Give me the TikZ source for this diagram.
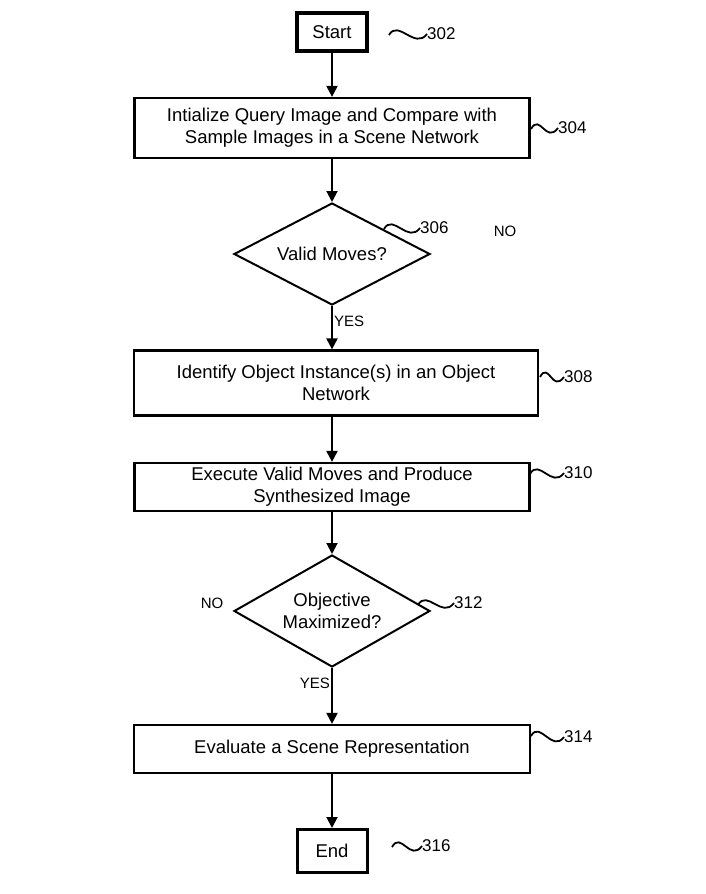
\documentclass[tikz,border=0pt]{standalone}
\usepackage{fontspec}
\setmainfont{Liberation Sans}
\usetikzlibrary{shapes.geometric,arrows.meta}

\begin{document}
\begin{tikzpicture}[x=1pt, y=-1pt,
    font=\fontsize{18.5}{22}\selectfont,
    flowbox/.style={draw, line width=2.2pt, align=center, inner sep=0pt},
    termbox/.style={draw, line width=3.5pt, minimum width=70pt, minimum height=38pt, inner sep=0pt},
    decision/.style={draw, diamond, line width=2pt, align=center, inner sep=0pt, minimum width=196pt},
    flow/.style={line width=2pt, -{Triangle[width=11pt,length=11pt]}},
    refnum/.style={anchor=west, inner sep=0pt, font=\fontsize{17}{20}\selectfont},
    branch/.style={inner sep=1pt, font=\fontsize{15}{18}\selectfont},
    squiggle/.style={line width=1.8pt}]
    \useasboundingbox (0,0) rectangle (706,894);

    \node (start) [termbox] at (332, 32) {Start};
    \node (b304) [flowbox, minimum width=395pt, minimum height=60pt] at (332, 128)
        {Intialize Query Image and Compare with\\Sample Images in a Scene Network};
    \node (d306) [decision, aspect=1.92, minimum height=102pt] at (332, 254) {Valid Moves?};
    \node (b308) [flowbox, minimum width=404pt, minimum height=65pt] at (336, 383)
        {Identify Object Instance(s) in an Object\\Network};
    \node (b310) [flowbox, minimum width=395pt, minimum height=48pt] at (332, 487)
        {Execute Valid Moves and Produce\\Synthesized Image};
    \node (d312) [decision, aspect=1.75, minimum height=112pt] at (332, 611) {Objective\\Maximized?};
    \node (b314) [flowbox, minimum width=396pt, minimum height=48pt] at (332, 749)
        {Evaluate a Scene Representation};
    \node (end) [termbox, line width=3pt, minimum height=43pt] at (332, 851) {End};

    \node (no306) [branch] at (505, 231) {NO};
    \node (no312) [branch] at (212, 603) {NO};

    % reference numerals
    \node (l302) [refnum] at (427, 34) {302};
    \node (l304) [refnum] at (558, 128) {304};
    \node (l306) [refnum] at (420, 228) {306};
    \node (l308) [refnum] at (564, 377) {308};
    \node (l310) [refnum] at (564, 473) {310};
    \node (l312) [refnum] at (454, 603) {312};
    \node (l314) [refnum] at (564, 737) {314};
    \node (l316) [refnum] at (422, 846) {316};

    \coordinate (t302) at (389, 35);
    \coordinate (t304) at (531, 129);
    \coordinate (t306) at (384, 229);
    \coordinate (t308) at (540, 377);
    \coordinate (t310) at (530, 474);
    \coordinate (t312) at (418, 605);
    \coordinate (t314) at (531, 736);
    \coordinate (t316) at (392, 847);

    \foreach \n in {302,304,306,308,310,312,314,316}
        \draw[squiggle] (t\n) .. controls +(9,-16) and +(-12,16) .. (l\n.west);

    \draw[flow] (start) -- (b304);
    \draw[flow] (b304) -- (d306);
    \draw[flow] (d306) -- (d306 |- b308.north) node[pos=0.35, branch, anchor=west] {YES};
    \draw[flow] (d306 |- b308.south) -- (b310);
    \draw[flow] (b310) -- (d312);
    \draw[flow] (d312) -- (b314) node[pos=0.28, branch, anchor=east] {YES};
    \draw[flow] (b314) -- (end);
\end{tikzpicture}
\end{document}
